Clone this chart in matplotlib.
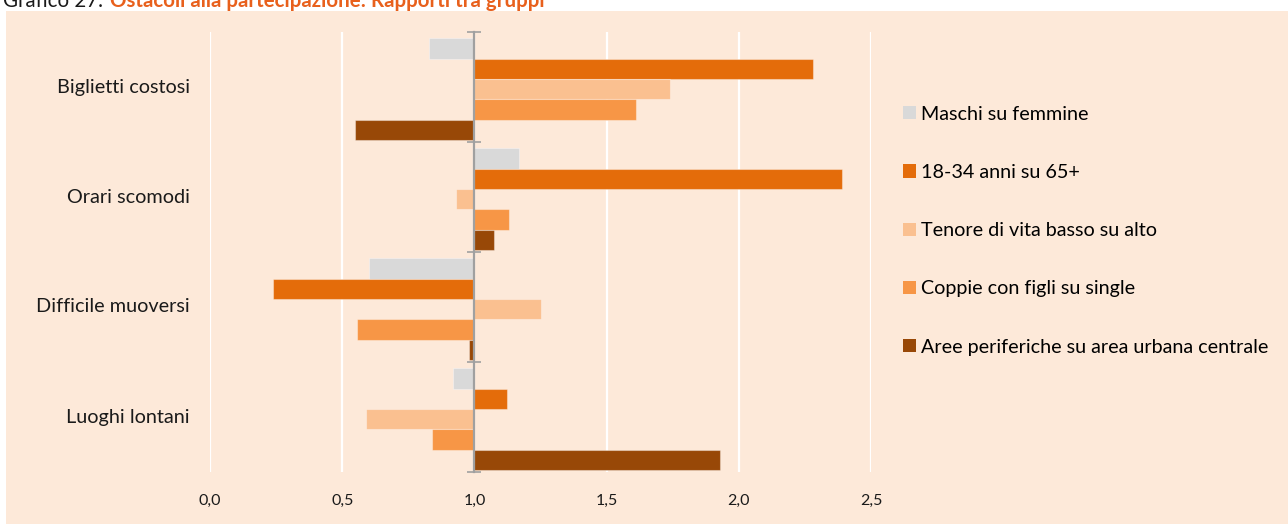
import matplotlib.pyplot as plt
import matplotlib.transforms as mtransforms
from matplotlib.patches import Rectangle, Patch
import numpy as np

plt.rcParams['font.family'] = ['Lato', 'DejaVu Sans']

# Data (ratios between groups, axis crosses at 1)
categories = ['Biglietti costosi', 'Orari scomodi', 'Difficile muoversi', 'Luoghi lontani']
series_names = ['Maschi su femmine', '18-34 anni su 65+', 'Tenore di vita basso su alto',
                'Coppie con figli su single', 'Aree periferiche su area urbana centrale']
maschi = [0.83, 1.17, 0.60, 0.92]
giovani = [2.28, 2.39, 0.24, 1.125]
tenore = [1.74, 0.93, 1.25, 0.59]
coppie = [1.61, 1.13, 0.555, 0.84]
periferie = [0.55, 1.075, 0.98, 1.93]
series = [maschi, giovani, tenore, coppie, periferie]
x_ticks = [0.0, 0.5, 1.0, 1.5, 2.0, 2.5]

colors = ['#D9D9D9', '#E46C0A', '#FAC090', '#F79646', '#984807']
bg = '#FDE9D9'

W, H = 1288, 524
fig = plt.figure(figsize=(W / 100, H / 100), dpi=100, facecolor='white')

# peach panel behind everything
fig.patches.append(Rectangle((6 / W, 0), 1 - 6 / W, (H - 11) / H,
                             transform=fig.transFigure, facecolor=bg,
                             edgecolor='none', zorder=-10))

# title (cut at the top like the reference)
fig.text(3 / W, 1 - 7 / H, 'Grafico 27.', fontsize=14.8, color='#1a1a1a',
         va='baseline', ha='left')
fig.text(110 / W, 1 - 7 / H, 'Ostacoli alla partecipazione: Rapporti tra gruppi',
         fontsize=14.8, color='#E8601C', fontweight='bold', va='baseline', ha='left')

ax = fig.add_axes([210 / W, (H - 472) / H, 661 / W, 440 / H])
ax.set_facecolor('none')

y = np.arange(len(categories))
bar_h = 0.185
offsets = (np.arange(len(series)) - 2) * bar_h + 0.02
for i, (vals, c) in enumerate(zip(series, colors)):
    vals = np.array(vals)
    ax.barh(y + offsets[i], vals - 1, left=1, height=bar_h, color=c,
            edgecolor=(1, 1, 1, 0.35), linewidth=0.8, zorder=3,
            label=series_names[i])

ax.set_xlim(0, 2.5)
ax.set_ylim(len(categories) - 0.5, -0.5)

# gridlines
ax.set_xticks(x_ticks)
ax.set_xticklabels([f'{t:.1f}'.replace('.', ',') for t in x_ticks], fontsize=11.5,
                   color='#1a1a1a')
ax.tick_params(axis='x', length=0, pad=15.5)
ax.grid(axis='x', color='white', linewidth=1.6, zorder=1)
ax.set_axisbelow(True)

for s in ['top', 'right', 'bottom']:
    ax.spines[s].set_visible(False)
ax.spines['left'].set_position(('data', 1.0))
ax.spines['left'].set_color('#A0A0A0')
ax.spines['left'].set_linewidth(1.6)
ax.spines['left'].set_zorder(4)

ax.set_yticks(np.arange(len(categories) + 1) - 0.5)
ax.set_yticklabels([])
ax.tick_params(axis='y', direction='inout', length=10, width=1.2, color='#A0A0A0')

trans = mtransforms.blended_transform_factory(ax.transAxes, ax.transData)
for yi, cat in zip(y, categories):
    ax.text(-20 / 661, yi, cat, transform=trans, ha='right', va='center',
            fontsize=14.3, color='#1a1a1a')

handles = [Patch(facecolor=c, edgecolor='none') for c in colors]
ax.legend(handles, series_names, loc='upper left',
          bbox_to_anchor=(885 / W, (H - 88) / H), bbox_transform=fig.transFigure,
          frameon=False, fontsize=14.2, labelspacing=2.09,
          handlelength=0.65, handleheight=0.65, handletextpad=0.3)

fig.savefig('out.png', dpi=100, facecolor='white')
